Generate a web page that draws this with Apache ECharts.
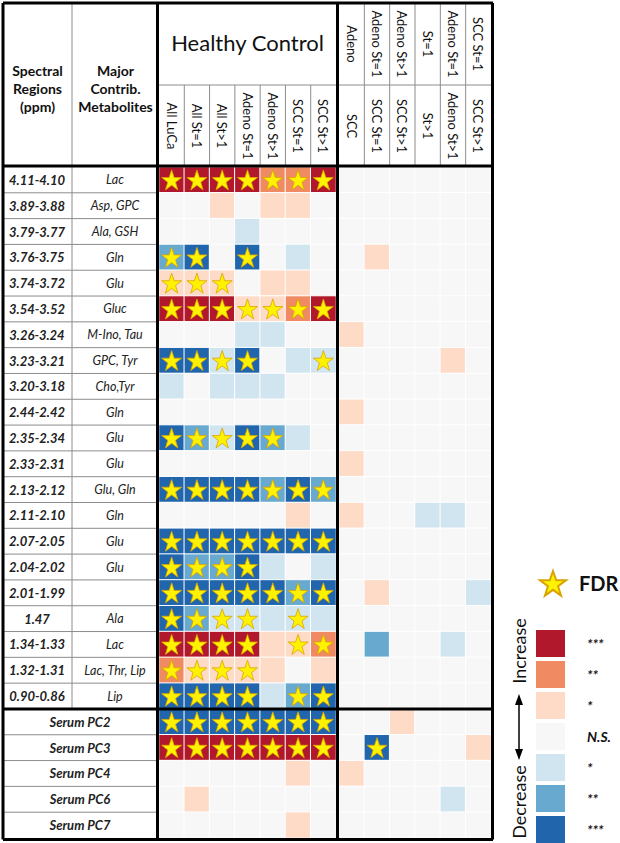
<!DOCTYPE html>
<html><head><meta charset="utf-8">
<script src="https://cdn.jsdelivr.net/npm/echarts@6/dist/echarts.min.js"></script>
<style>html,body{margin:0;padding:0;background:#fff}#c{width:620px;height:843px}</style>
</head><body><div id="c"></div>
<script>
// ---------- DATA ----------
const regions = ['4.11-4.10','3.89-3.88','3.79-3.77','3.76-3.75','3.74-3.72','3.54-3.52','3.26-3.24','3.23-3.21','3.20-3.18','2.44-2.42','2.35-2.34','2.33-2.31','2.13-2.12','2.11-2.10','2.07-2.05','2.04-2.02','2.01-1.99','1.47','1.34-1.33','1.32-1.31','0.90-0.86'];
const metabolites = ['Lac','Asp, GPC','Ala, GSH','Gln','Glu','Gluc','M-Ino, Tau','GPC, Tyr','Cho,Tyr','Gln','Glu','Glu','Glu, Gln','Gln','Glu','Glu','','Ala','Lac','Lac, Thr, Lip','Lip'];
const serumRows = ['Serum PC2','Serum PC3','Serum PC4','Serum PC6','Serum PC7'];
const hcCols = ['All LuCa','All St=1','All St>1','Adeno St=1','Adeno St>1','SCC St=1','SCC St>1'];
const cmpTop = ['Adeno','Adeno St=1','Adeno St>1','St=1','Adeno St=1','SCC St=1'];
const cmpBottom = ['SCC','SCC St=1','SCC St>1','St>1','Adeno St>1','SCC St>1'];
const levelLabels = ['***','**','*','N.S.','*','**','***'];
const levelValues = [3,2,1,0,-1,-2,-3];
// signed significance level: + increase, - decrease (3 = ***, 2 = **, 1 = *, 0 = N.S.)
const hcValues = [
 [3,3,3,3,2,2,3],[0,0,1,0,1,1,0],[0,0,0,-1,0,0,0],[-2,-3,0,-3,0,-1,0],[1,1,1,0,1,1,0],
 [3,3,3,1,1,2,3],[0,0,0,-1,-1,0,0],[-3,-3,-1,-3,0,-1,-1],[-1,0,-1,-1,-1,0,0],[0,0,0,0,0,0,0],
 [-3,-2,-1,-3,-2,-1,0],[0,0,0,0,0,0,0],[-3,-3,-3,-3,-2,-3,-2],[0,0,0,0,0,1,0],[-3,-3,-3,-3,-3,-3,-3],
 [-3,-2,-2,-3,-1,0,-1],[-3,-3,-3,-3,-3,-2,-3],[-3,-2,-1,-1,-1,-1,-1],[3,3,3,3,1,1,2],[2,1,1,1,1,0,1],
 [-3,-3,-3,-3,-1,-2,-3],
 [-3,-3,-3,-3,-3,-3,-3],[3,3,3,3,3,3,3],[0,0,0,0,0,1,0],[0,1,0,0,0,0,0],[0,0,0,0,0,1,0]
];
const hcStars = [
 [1,1,1,1,1,1,1],[0,0,0,0,0,0,0],[0,0,0,0,0,0,0],[1,1,0,1,0,0,0],[1,1,1,0,0,0,0],
 [1,1,1,1,1,1,1],[0,0,0,0,0,0,0],[1,1,1,1,0,0,1],[0,0,0,0,0,0,0],[0,0,0,0,0,0,0],
 [1,1,1,1,1,0,0],[0,0,0,0,0,0,0],[1,1,1,1,1,1,1],[0,0,0,0,0,0,0],[1,1,1,1,1,1,1],
 [1,1,1,1,0,0,0],[1,1,1,1,1,1,1],[1,1,1,1,0,1,0],[1,1,1,1,0,1,1],[1,1,1,1,0,0,0],
 [1,1,1,1,0,1,1],
 [1,1,1,1,1,1,1],[1,1,1,1,1,1,1],[0,0,0,0,0,0,0],[0,0,0,0,0,0,0],[0,0,0,0,0,0,0]
];
const cmpValues = [
 [0,0,0,0,0,0],[0,0,0,0,0,0],[0,0,0,0,0,0],[0,1,0,0,0,0],[0,0,0,0,0,0],
 [0,0,0,0,0,0],[1,0,0,0,0,0],[0,0,0,0,1,0],[0,0,0,0,0,0],[1,0,0,0,0,0],
 [0,0,0,0,0,0],[1,0,0,0,0,0],[0,0,0,0,0,0],[1,0,0,-1,-1,0],[0,0,0,0,0,0],
 [0,0,0,0,0,0],[0,1,0,0,0,-1],[0,0,0,0,0,0],[0,-2,0,0,-1,0],[0,0,0,0,0,0],
 [0,0,0,0,0,0],
 [0,0,1,0,0,0],[0,-3,0,0,0,1],[1,0,0,0,0,0],[0,0,0,0,-1,0],[0,0,0,0,0,0]
];
const cmpStars = [
 [0,0,0,0,0,0],[0,0,0,0,0,0],[0,0,0,0,0,0],[0,0,0,0,0,0],[0,0,0,0,0,0],
 [0,0,0,0,0,0],[0,0,0,0,0,0],[0,0,0,0,0,0],[0,0,0,0,0,0],[0,0,0,0,0,0],
 [0,0,0,0,0,0],[0,0,0,0,0,0],[0,0,0,0,0,0],[0,0,0,0,0,0],[0,0,0,0,0,0],
 [0,0,0,0,0,0],[0,0,0,0,0,0],[0,0,0,0,0,0],[0,0,0,0,0,0],[0,0,0,0,0,0],
 [0,0,0,0,0,0],
 [0,0,0,0,0,0],[0,1,0,0,0,0],[0,0,0,0,0,0],[0,0,0,0,0,0],[0,0,0,0,0,0]
];
const levelColors = ['#B2182B','#EF8A62','#FDDBC7','#F7F7F7','#D1E5F0','#67A9CF','#2166AC'];

// ---------- BUILD ----------
const FONT = 'Lato';
const STAR = 'path://M50,2 L61.8,36.2 L97.6,36.2 L68.6,57.6 L79.4,92 L50,71 L20.6,92 L31.4,57.6 L2.4,36.2 L38.2,36.2 Z';
const rowKeys = regions.concat(serumRows);
const nMain = regions.length;
function cells(vals){const d=[];vals.forEach((r,i)=>r.forEach((v,j)=>d.push([j,i,v])));return d;}
function stars(fl){const d=[];fl.forEach((r,i)=>r.forEach((v,j)=>{if(v)d.push([j,i]);}));return d;}

const hidden = {axisLine:{show:false},axisTick:{show:false},splitLine:{show:false}};
function yLab(margin, pick, style){
  return Object.assign({type:'category',gridIndex:0,inverse:true,data:rowKeys,position:'left',
    axisLabel:Object.assign({interval:0,margin:margin,align:'center',fontFamily:FONT,color:'#222',formatter:(v,i)=>pick(i)},style)},hidden);
}
const xLabStyle = {interval:0,rotate:90,align:'center',verticalAlign:'middle',margin:41,fontFamily:FONT,fontSize:13,color:'#111'};

const pieces = levelValues.slice().reverse().map((v,k)=>{const i=levelValues.length-1-k;return {value:v,label:levelLabels[i],color:levelColors[i]};});

const option = {
  animation:false,
  grid:[{left:159,top:167,width:177,height:671},{left:339,top:167,width:152,height:671}],
  xAxis:[
    Object.assign({type:'category',gridIndex:0,position:'top',data:hcCols,axisLabel:xLabStyle,
      name:'Healthy Control',nameLocation:'middle',nameGap:114,nameTextStyle:{fontFamily:FONT,fontSize:22,color:'#111'}},hidden),
    Object.assign({type:'category',gridIndex:1,position:'top',data:cmpBottom,axisLabel:xLabStyle},hidden),
    Object.assign({type:'category',gridIndex:1,position:'top',offset:82,data:cmpTop,axisLabel:xLabStyle},hidden)
  ],
  yAxis:[
    yLab(122, i=>i<nMain?regions[i]:'', {fontSize:13,fontWeight:'bold',fontStyle:'italic'}),
    yLab(44, i=>i<nMain?metabolites[i]:'', {fontSize:12.5,fontStyle:'italic'}),
    yLab(79, i=>i>=nMain?serumRows[i-nMain]:'', {fontSize:13,fontWeight:'bold',fontStyle:'italic'}),
    Object.assign({type:'category',gridIndex:1,inverse:true,data:rowKeys,axisLabel:{show:false}},hidden)
  ],
  visualMap:{type:'piecewise',seriesIndex:[0,1],pieces:pieces,orient:'vertical',align:'left',left:521,top:615,
    itemWidth:29,itemHeight:27,itemGap:4,textGap:22,itemSymbol:'rect',selectedMode:false,hoverLink:false,
    textStyle:{fontFamily:FONT,fontSize:14,fontWeight:'bold',fontStyle:'italic',color:'#111'}},
  legend:{left:534,top:565,data:[{name:'FDR',icon:STAR}],itemWidth:26,itemHeight:26,itemGap:10,selectedMode:false,
    textStyle:{fontFamily:FONT,fontSize:20,fontWeight:'bold',color:'#111',padding:[0,0,0,8]}},
  series:[
    {type:'heatmap',xAxisIndex:0,yAxisIndex:0,data:cells(hcValues),itemStyle:{borderColor:'#fff',borderWidth:1},emphasis:{disabled:true}},
    {type:'heatmap',xAxisIndex:1,yAxisIndex:3,data:cells(cmpValues),itemStyle:{borderColor:'#fff',borderWidth:1},emphasis:{disabled:true}},
    {name:'FDR',type:'scatter',xAxisIndex:0,yAxisIndex:0,data:stars(hcStars),symbol:STAR,symbolSize:20,z:5,
      itemStyle:{color:'#FFF200',borderColor:'#D9A400',borderWidth:0.8,opacity:1},emphasis:{disabled:true}},
    {name:'FDR',type:'scatter',xAxisIndex:1,yAxisIndex:3,data:stars(cmpStars),symbol:STAR,symbolSize:20,z:5,
      itemStyle:{color:'#FFF200',borderColor:'#D9A400',borderWidth:0.8,opacity:1},emphasis:{disabled:true}}
  ]
};
const chart = echarts.init(document.getElementById('c'),null,{renderer:'svg'});
chart.setOption(option);

// ---------- TABLE FRAME (derived from axis positions) ----------
const a0 = chart.convertToPixel({gridIndex:0},[0,0]), a1 = chart.convertToPixel({gridIndex:0},[1,1]);
const b0 = chart.convertToPixel({gridIndex:1},[0,0]), b1 = chart.convertToPixel({gridIndex:1},[1,1]);
const cw = a1[0]-a0[0], rh = a1[1]-a0[1], cw2 = b1[0]-b0[0];
const L = a0[0]-cw/2, R = L+hcCols.length*cw;
const L2 = b0[0]-cw2/2, R2 = L2+cmpTop.length*cw2;
const T = a0[1]-rh/2;
const rowY = k => T+k*rh;
const B = rowY(rowKeys.length);
const X0 = 3, Y0 = 3, XM = 72, YH = 85;
const els = [];
function ln(x1,y1,x2,y2,w,c){els.push({type:'line',silent:true,z:50,shape:{x1,y1,x2,y2},style:{stroke:c,lineWidth:w}});}
const G='#8c8c8c';
for(let k=1;k<rowKeys.length;k++){ if(k!==nMain) ln(X0,rowY(k),L-1,rowY(k),1,G); }
ln(XM,Y0,XM,rowY(nMain),1,G);
ln(L,YH,R2+1,YH,1,G);
for(let i=1;i<hcCols.length;i++) ln(L+i*cw,YH,L+i*cw,T-1,1,G);
for(let i=1;i<cmpTop.length;i++) ln(L2+i*cw2,Y0,L2+i*cw2,T-1,1,G);
const K='#000', W=3;
ln(X0,Y0,R2+2,Y0,W,K); ln(X0,B+1.5,R2+2,B+1.5,W,K);
ln(X0,Y0,X0,B+1.5,W,K); ln(R2+1.5,Y0,R2+1.5,B+1.5,W,K);
ln(L-1.5,Y0,L-1.5,B+1.5,W,K); ln((R+L2)/2,Y0,(R+L2)/2,B+1.5,W,K);
ln(X0,T-1,R2+2,T-1,W,K); ln(X0,rowY(nMain),R2+2,rowY(nMain),W,K);
function tx(x,y,t,st,rot){els.push({type:'text',x,y,rotation:rot||0,z:60,silent:true,style:Object.assign({text:t,fontFamily:FONT,fill:'#111',align:'center',verticalAlign:'middle'},st)});}
tx((X0+XM)/2,88,'Spectral\nRegions\n(ppm)',{fontSize:14,fontWeight:'bold',lineHeight:18});
tx((XM+L)/2,88,'Major\nContrib.\nMetabolites',{fontSize:14,fontWeight:'bold',lineHeight:18});
tx(519,651,'Increase',{fontSize:18},Math.PI/2);
tx(519,802,'Decrease',{fontSize:18},Math.PI/2);
ln(519,702,519,752,1.5,K);
els.push({type:'polygon',silent:true,shape:{points:[[519,694],[515,705],[523,705]]},style:{fill:K}});
els.push({type:'polygon',silent:true,shape:{points:[[519,760],[515,749],[523,749]]},style:{fill:K}});
chart.setOption({graphic:{elements:els}});
</script></body></html>
